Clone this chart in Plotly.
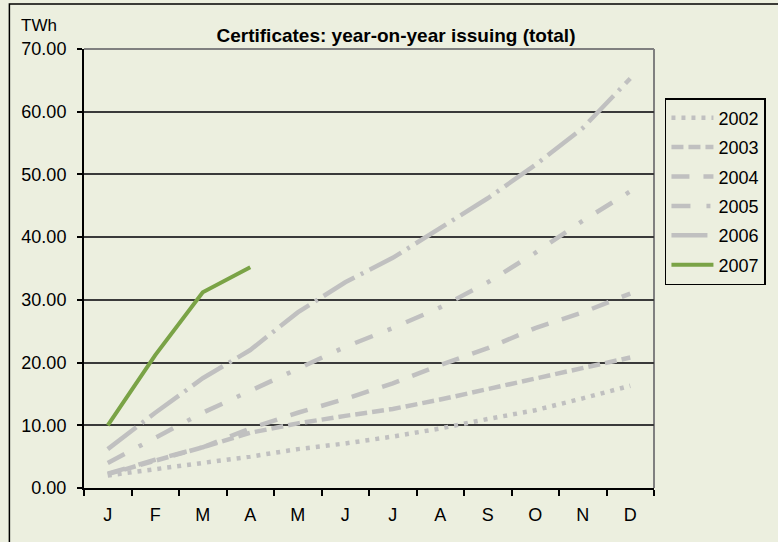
import plotly.graph_objects as go

months = ["Jan", "Feb", "Mar", "Apr", "May", "Jun", "Jul", "Aug", "Sep", "Oct", "Nov", "Dec"]
month_labels = ["J", "F", "M", "A", "M", "J", "J", "A", "S", "O", "N", "D"]

y2002 = [2.0, 3.0, 4.0, 5.0, 6.2, 7.1, 8.2, 9.5, 11.0, 12.4, 14.3, 16.3]
y2003 = [2.2, 4.3, 6.5, 8.8, 10.3, 11.5, 12.6, 14.1, 15.8, 17.5, 19.2, 20.8]
y2004 = [2.3, 4.5, 6.5, 9.5, 12.0, 14.2, 16.7, 19.6, 22.3, 25.5, 28.0, 31.0]
y2005 = [4.0, 8.0, 12.0, 15.5, 19.0, 22.5, 25.5, 28.8, 32.8, 37.5, 42.6, 47.3]
y2006 = [6.2, 12.0, 17.5, 22.0, 28.0, 32.8, 36.7, 41.5, 46.2, 51.5, 57.4, 65.3]
y2007 = [10.0, 21.2, 31.2, 35.2]

series = [
    ("2002", y2002, "#C0C0C0", 4.5, "4px,6px"),
    ("2003", y2003, "#C0C0C0", 4.5, "12px,5px"),
    ("2004", y2004, "#C0C0C0", 4.5, "18px,14px"),
    ("2005", y2005, "#C0C0C0", 4.5, "19px,16px,4px,16px"),
    ("2006", y2006, "#C0C0C0", 4.5, "36px,7px,3px,7px"),
    ("2007", y2007, "#7AA346", 4, "solid"),
]

bg = "#ECEFDF"
fig = go.Figure()
for i, (name, ys, color, w, dash) in enumerate(series):
    fig.add_trace(go.Scatter(
        x=months[:len(ys)], y=ys, name=name, mode="lines",
        line=dict(color=color, width=w, dash=dash),
        legendgroup=name,
    ))

W, H = 778, 542
L, R, T, B = 84, 657, 49, 488
pw, ph = R - L, B - T

def px_x(p):
    return (p - L) / pw

def px_y(p):
    return (B - p) / ph

fig.update_layout(
    width=W, height=H,
    margin=dict(l=L, r=W - R, t=T, b=H - B),
    paper_bgcolor=bg, plot_bgcolor=bg,
    font=dict(family="Liberation Sans, Arial, sans-serif", size=18, color="black"),
    title=dict(text="<b>Certificates: year-on-year issuing (total)</b>",
               x=396 / W, y=1 - 35 / H, xref="container", yref="container",
               xanchor="center", yanchor="middle",
               font=dict(size=19, color="black")),
    showlegend=True,
    legend=dict(x=px_x(668), y=px_y(98), xanchor="left", yanchor="top",
                bgcolor=bg, bordercolor="black", borderwidth=1.5,
                font=dict(size=18), tracegroupgap=3, itemwidth=42,
                traceorder="grouped"),
    xaxis=dict(
        type="category", categoryorder="array", categoryarray=months,
        tickmode="array", tickvals=months, ticktext=month_labels,
        tickson="boundaries", ticks="outside", ticklen=6, tickwidth=2,
        tickcolor="black", showline=True, linecolor="black", linewidth=2,
        showgrid=False, range=[-0.5, 11.5], ticklabelstandoff=9,
        zeroline=False,
    ),
    yaxis=dict(
        range=[0, 70], dtick=10, tick0=0, tickformat=".2f",
        ticks="outside", ticklen=5, tickwidth=2, tickcolor="black",
        showline=True, linecolor="black", linewidth=2,
        showgrid=True, gridcolor="#3A3A3A", gridwidth=1.5,
        zeroline=False, ticklabelstandoff=7,
    ),
    shapes=[
        dict(type="line", xref="paper", yref="paper", x0=1, x1=1, y0=0, y1=1,
             line=dict(color="#808080", width=2), layer="below"),
        dict(type="line", xref="paper", yref="paper", x0=0, x1=1, y0=1, y1=1,
             line=dict(color="#808080", width=2), layer="below"),
        dict(type="rect", xref="paper", yref="paper",
             x0=px_x(9), x1=px_x(800), y0=px_y(4), y1=px_y(600),
             line=dict(color="black", width=1.5), layer="below"),
    ],
    annotations=[
        dict(text="TWh", xref="paper", yref="paper", x=px_x(39), y=px_y(26),
             xanchor="center", yanchor="middle", showarrow=False,
             font=dict(size=17, color="black")),
    ],
)

fig.write_html("out.html", config={"displayModeBar": False},
               post_script="document.body.style.margin='0px';document.body.style.padding='0px';")
